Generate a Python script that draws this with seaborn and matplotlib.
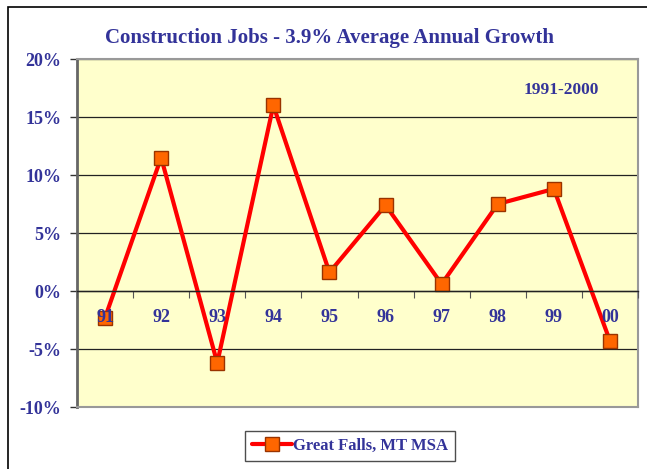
import numpy as np
import pandas as pd
import seaborn as sns
import matplotlib.pyplot as plt
from matplotlib.patches import Rectangle

# data
years = ['91', '92', '93', '94', '95', '96', '97', '98', '99', '00']
growth = [-2.3, 11.5, -6.2, 16.0, 1.6, 7.4, 0.6, 7.5, 8.8, -4.3]
yticks = [-10, -5, 0, 5, 10, 15, 20]
series_name = 'Great Falls, MT MSA'

navy = '#333399'
df = pd.DataFrame({'year': years, 'growth': growth})

sns.set_style('white')
plt.rcParams['font.family'] = ['Liberation Serif', 'DejaVu Serif']
plt.rcParams['font.weight'] = 'bold'

fig = plt.figure(figsize=(6.47, 4.69), dpi=100)
ax = fig.add_axes([77/647, 1 - 407/469, (638 - 77)/647, (407 - 59)/469])
ax.set_facecolor('#FFFFCC')

sns.lineplot(data=df, x='year', y='growth', ax=ax, color='#FF0000', lw=3,
             marker='s', markersize=10, markerfacecolor='#FF6600',
             markeredgecolor='#993300', markeredgewidth=1, label=series_name,
             zorder=3)

ax.set_xlim(-0.5, len(years) - 0.5)
ax.set_ylim(-10, 20)
ax.set_yticks(yticks)
ax.set_yticklabels([f'{v}%' for v in yticks], fontsize=13, color=navy,
                   fontweight='bold')
ax.tick_params(axis='y', direction='out', length=5, width=1, color='#333333',
               left=True, pad=6)
ax.set_xticks([])
ax.set_xlabel('')
ax.set_ylabel('')
ax.yaxis.grid(True, color='#222222', lw=0.9)
ax.set_axisbelow(True)
for side in ['top', 'right', 'bottom']:
    ax.spines[side].set_color('#999999')
    ax.spines[side].set_linewidth(1.5)
ax.spines['left'].set_color('#666666')
ax.spines['left'].set_linewidth(2)

# category axis crossing at 0%
sec = ax.secondary_xaxis(10 / 30)
sec.set_zorder(4)
sec.spines['bottom'].set_color('#222222')
sec.spines['bottom'].set_linewidth(1)
sec.set_xticks(np.arange(-0.5, len(years), 1.0))
sec.set_xticklabels([])
sec.set_xticks(range(len(years)), minor=True)
sec.set_xticklabels(years, minor=True, fontsize=13, color=navy,
                    fontweight='bold')
sec.tick_params(axis='x', which='major', direction='out', length=5,
                color='#555555')
sec.tick_params(axis='x', which='minor', length=0, pad=13)

fig.text(330/647, 1 - 38/469, 'Construction Jobs - 3.9% Average Annual Growth',
         ha='center', va='center', fontsize=15, color=navy, fontweight='bold')
ax.text((561 - 77)/561, (407 - 90)/348, '1991-2000', transform=ax.transAxes,
        ha='center', va='center', fontsize=12.5, color=navy, fontweight='bold')

leg = ax.legend(loc='center', bbox_to_anchor=(350/647, 1 - 446/469),
                bbox_transform=fig.transFigure, frameon=True, fancybox=False,
                edgecolor='#222222', handlelength=2.4, handletextpad=0.1,
                borderpad=0.4, prop={'size': 12, 'weight': 'bold'})
leg.get_frame().set_linewidth(1)
for t in leg.get_texts():
    t.set_color(navy)

# outer chart frame (extends past the right and bottom edges)
fig.patches.append(Rectangle((8/647, -0.1), 1.2, 1 - 7/469 + 0.1,
                             transform=fig.transFigure, fill=False,
                             edgecolor='black', lw=1.2))

fig.savefig('out.png', dpi=100)
